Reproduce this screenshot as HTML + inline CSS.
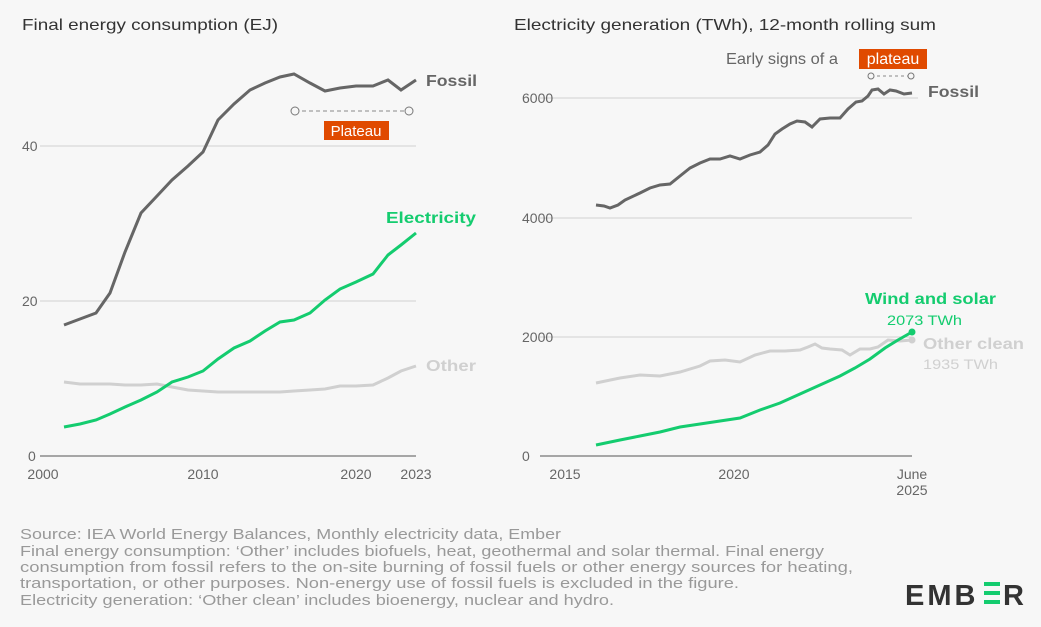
<!DOCTYPE html>
<html><head><style>
body{margin:0;background:#f7f7f7;width:1041px;height:622px;overflow:hidden;font-family:"Liberation Sans",sans-serif}
svg text{font-family:"Liberation Sans",sans-serif}
</style></head><body>
<svg width="1041" height="622" viewBox="0 0 1041 622" xmlns="http://www.w3.org/2000/svg">
<rect width="1041" height="622" fill="#f7f7f7"/>
<text x="22" y="30" font-size="16" fill="#333" textLength="256" lengthAdjust="spacingAndGlyphs">Final energy consumption (EJ)</text>
<text x="514" y="30" font-size="16" fill="#333" textLength="422" lengthAdjust="spacingAndGlyphs">Electricity generation (TWh), 12-month rolling sum</text>
<g stroke="#d0d0d0" stroke-width="1">
<line x1="40" y1="146" x2="416" y2="146"/><line x1="40" y1="301" x2="416" y2="301"/>
</g>
<line x1="40" y1="456" x2="416" y2="456" stroke="#555" stroke-width="1"/>
<g font-size="14" fill="#666">
<text x="22" y="151">40</text><text x="22" y="306">20</text><text x="28" y="461">0</text>
<text x="43" y="479" text-anchor="middle">2000</text><text x="203" y="479" text-anchor="middle">2010</text>
<text x="356" y="479" text-anchor="middle">2020</text><text x="416" y="479" text-anchor="middle">2023</text>
</g>
<polyline fill="none" stroke="#d0d0d0" stroke-width="3" points="64,382 80,384 96,384 110,384 125,385 141,385 157,384 172,387 188,390 203,391 218,392 234,392 250,392 265,392 280,392 294,391 310,390 325,389 340,386 356,386 373,385 388,378 401,371 416,366"/>
<polyline fill="none" stroke="#14cc6f" stroke-width="3" points="64,427 80,424 96,420 110,414 125,407 141,400 157,392 172,382 188,377 203,371 218,359 234,348 250,341 265,331 280,322 294,320 310,313 325,300 340,289 356,282 373,274 388,255 401,245 416,233"/>
<polyline fill="none" stroke="#666" stroke-width="3" points="64,325 80,319 96,313 110,293 125,252 141,213 157,196 172,180 188,166 203,152 218,120 234,104 250,90 265,83 280,77 294,74 310,83 325,91 340,88 356,86 373,86 388,80 401,90 416,80"/>
<line x1="295" y1="111" x2="409" y2="111" stroke="#888" stroke-dasharray="4,3"/>
<circle cx="295" cy="111" r="4" fill="#f7f7f7" stroke="#777"/><circle cx="409" cy="111" r="4" fill="#f7f7f7" stroke="#777"/>
<rect x="324" y="121" width="65" height="19" fill="#e04a00"/>
<text x="356" y="136" font-size="15" fill="#fff" text-anchor="middle">Plateau</text>
<text x="426" y="86" font-size="16" font-weight="bold" fill="#666" textLength="51" lengthAdjust="spacingAndGlyphs">Fossil</text>
<text x="386" y="223" font-size="16" font-weight="bold" fill="#14cc6f" textLength="90" lengthAdjust="spacingAndGlyphs">Electricity</text>
<text x="426" y="371" font-size="16" font-weight="bold" fill="#d0d0d0" textLength="50" lengthAdjust="spacingAndGlyphs">Other</text>
<g stroke="#d0d0d0" stroke-width="1">
<line x1="540" y1="98" x2="918" y2="98"/><line x1="540" y1="218" x2="912" y2="218"/><line x1="540" y1="337" x2="912" y2="337"/>
</g>
<line x1="540" y1="456" x2="912" y2="456" stroke="#555"/>
<g font-size="14" fill="#666">
<text x="522" y="103">6000</text><text x="522" y="223">4000</text><text x="522" y="342">2000</text><text x="522" y="461">0</text>
<text x="565" y="479" text-anchor="middle">2015</text><text x="734" y="479" text-anchor="middle">2020</text>
<text x="912" y="479" text-anchor="middle">June</text><text x="912" y="495" text-anchor="middle">2025</text>
</g>
<polyline fill="none" stroke="#d0d0d0" stroke-width="3" points="596,383 620,378 640,375 660,376 680,372 700,366 710,361 725,360 740,362 755,355 770,351 785,351 800,350 808,347 815,344 822,348 830,349 842,350 850,355 860,349 870,349 878,347 888,340 900,341 912,340"/>
<polyline fill="none" stroke="#14cc6f" stroke-width="3" points="596,445 620,440 640,436 660,432 680,427 700,424 720,421 740,418 760,410 780,403 800,394 820,385 840,376 855,368 870,359 885,348 898,340 912,332"/>
<circle cx="912" cy="332" r="3.5" fill="#14cc6f"/><circle cx="912" cy="340" r="3.5" fill="#d0d0d0"/>
<polyline fill="none" stroke="#666" stroke-width="3" points="596,205 604,206 610,208 618,205 625,200 640,193 650,188 660,185 670,184 680,176 690,168 700,163 710,159 720,159 730,156 740,159 750,155 760,152 768,145 775,134 782,129 790,124 797,121 805,122 812,127 820,119 830,118 840,118 848,109 856,102 862,101 868,96 872,90 878,89 884,94 890,90 896,91 904,94 912,93"/>
<line x1="871" y1="76" x2="911" y2="76" stroke="#888" stroke-dasharray="3,3"/>
<circle cx="871" cy="76" r="3" fill="#f7f7f7" stroke="#777"/><circle cx="911" cy="76" r="3" fill="#f7f7f7" stroke="#777"/>
<text x="726" y="64" font-size="16" fill="#666" textLength="112" lengthAdjust="spacingAndGlyphs">Early signs of a</text>
<rect x="859" y="49" width="68" height="20" fill="#e04a00"/>
<text x="893" y="64" font-size="16" fill="#fff" text-anchor="middle">plateau</text>
<text x="928" y="97" font-size="16" font-weight="bold" fill="#666" textLength="51" lengthAdjust="spacingAndGlyphs">Fossil</text>
<text x="865" y="304" font-size="16" font-weight="bold" fill="#14cc6f" textLength="131" lengthAdjust="spacingAndGlyphs">Wind and solar</text>
<text x="887" y="325" font-size="14" fill="#14cc6f" textLength="75" lengthAdjust="spacingAndGlyphs">2073 TWh</text>
<text x="923" y="349" font-size="16" font-weight="bold" fill="#d0d0d0" textLength="101" lengthAdjust="spacingAndGlyphs">Other clean</text>
<text x="923" y="369" font-size="14" fill="#d0d0d0" textLength="75" lengthAdjust="spacingAndGlyphs">1935 TWh</text>
<g font-size="15" fill="#999">
<text x="20" y="539" textLength="541" lengthAdjust="spacingAndGlyphs">Source: IEA World Energy Balances, Monthly electricity data, Ember</text>
<text x="20" y="556" textLength="804" lengthAdjust="spacingAndGlyphs">Final energy consumption: ‘Other’ includes biofuels, heat, geothermal and solar thermal. Final energy</text>
<text x="20" y="572" textLength="833" lengthAdjust="spacingAndGlyphs">consumption from fossil refers to the on-site burning of fossil fuels or other energy sources for heating,</text>
<text x="20" y="588" textLength="719" lengthAdjust="spacingAndGlyphs">transportation, or other purposes. Non-energy use of fossil fuels is excluded in the figure.</text>
<text x="20" y="605" textLength="594" lengthAdjust="spacingAndGlyphs">Electricity generation: ‘Other clean’ includes bioenergy, nuclear and hydro.</text>
</g>
<text x="905" y="605" font-size="29" font-weight="bold" fill="#333" letter-spacing="3">EMB</text>
<g fill="#14cc6f"><rect x="984" y="582" width="16" height="4"/><rect x="984" y="591" width="16" height="4"/><rect x="984" y="600" width="16" height="4"/></g>
<text x="1003" y="605" font-size="29" font-weight="bold" fill="#333">R</text>
</svg>
</body></html>
